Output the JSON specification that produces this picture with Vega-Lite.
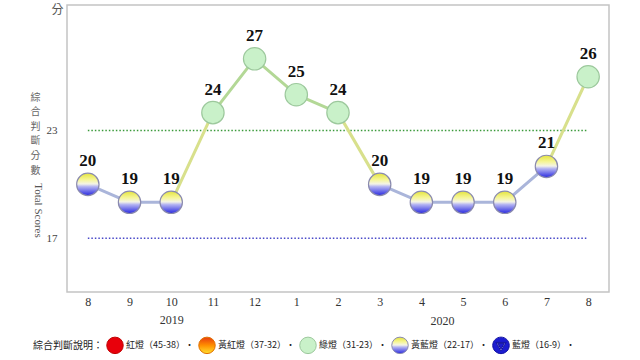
{
  "$schema": "https://vega.github.io/schema/vega-lite/v6.json",
  "autosize": "none",
  "width": 542,
  "height": 287,
  "padding": {"left": 67, "top": 5, "right": 31, "bottom": 68},
  "background": "white",
  "config": {
    "view": {"stroke": "#c4c4c4", "strokeWidth": 1.5}
  },
  "data": {
    "values": [
      {"ym": "2019-08", "score": 20, "light": "黃藍燈（22-17）"},
      {"ym": "2019-09", "score": 19, "light": "黃藍燈（22-17）"},
      {"ym": "2019-10", "score": 19, "light": "黃藍燈（22-17）"},
      {"ym": "2019-11", "score": 24, "light": "綠燈（31-23）"},
      {"ym": "2019-12", "score": 27, "light": "綠燈（31-23）"},
      {"ym": "2020-01", "score": 25, "light": "綠燈（31-23）"},
      {"ym": "2020-02", "score": 24, "light": "綠燈（31-23）"},
      {"ym": "2020-03", "score": 20, "light": "黃藍燈（22-17）"},
      {"ym": "2020-04", "score": 19, "light": "黃藍燈（22-17）"},
      {"ym": "2020-05", "score": 19, "light": "黃藍燈（22-17）"},
      {"ym": "2020-06", "score": 19, "light": "黃藍燈（22-17）"},
      {"ym": "2020-07", "score": 21, "light": "黃藍燈（22-17）"},
      {"ym": "2020-08", "score": 26, "light": "綠燈（31-23）"}
    ]
  },
  "encoding": {
    "x": {
      "field": "ym",
      "type": "ordinal",
      "scale": {"type": "point", "padding": 0.5},
      "axis": {
        "labelAngle": 0,
        "ticks": false,
        "domain": false,
        "grid": false,
        "labelPadding": 4,
        "labelFont": "Liberation Serif",
        "labelFontSize": 12,
        "labelColor": "#333333",
        "labelLineHeight": 18,
        "labelExpr": "datum.value == '2019-10' ? ['10', '2019'] : '' + toNumber(slice(datum.value, 5))",
        "title": "2020",
        "titleX": 375,
        "titleY": 28,
        "titleAlign": "center",
        "titleBaseline": "middle",
        "titleFont": "Liberation Serif",
        "titleFontSize": 12,
        "titleFontWeight": "normal",
        "titleColor": "#333333"
      }
    }
  },
  "resolve": {"scale": {"y": "independent"}},
  "layer": [
    {
      "data": {"values": [{"level": 23}, {"level": 17}]},
      "mark": {"type": "rule", "strokeWidth": 1.5, "strokeDash": [1.5, 2]},
      "encoding": {
        "x": {"datum": "2019-08"},
        "x2": {"datum": "2020-08"},
        "y": {
          "field": "level",
          "type": "quantitative",
          "scale": {"domain": [14, 30], "nice": false, "zero": false},
          "axis": {
            "orient": "left",
            "values": [17, 23],
            "ticks": false,
            "domain": false,
            "grid": false,
            "labelPadding": 10,
            "labelFont": "Liberation Serif",
            "labelFontSize": 11,
            "labelColor": "#444444",
            "title": ["綜", "合", "判", "斷", "分", "數"],
            "titleAngle": 0,
            "titleX": -32,
            "titleY": 87,
            "titleAlign": "center",
            "titleBaseline": "top",
            "titleLineHeight": 14.6,
            "titleFont": "Noto Sans CJK TC",
            "titleFontSize": 10,
            "titleFontWeight": "normal",
            "titleColor": "#666666"
          }
        },
        "stroke": {
          "condition": {"test": "datum.level == 23", "value": "#3a9a3a"},
          "value": "#4848c8"
        }
      }
    },
    {
      "transform": [
        {
          "window": [
            {"op": "lead", "field": "ym", "as": "nym"},
            {"op": "lead", "field": "score", "as": "nscore"},
            {"op": "lead", "field": "light", "as": "nlight"}
          ],
          "sort": [{"field": "ym"}]
        },
        {"filter": "datum.nym != null"},
        {"calculate": "datum.light == datum.nlight ? datum.light : '轉換'", "as": "seg"}
      ],
      "mark": {"type": "rule", "strokeWidth": 3, "strokeCap": "round"},
      "encoding": {
        "x2": {"field": "nym"},
        "y": {
          "field": "score",
          "type": "quantitative",
          "scale": {"domain": [14, 30], "nice": false, "zero": false},
          "axis": {
            "orient": "left",
            "labels": false,
            "ticks": false,
            "domain": false,
            "grid": false,
            "title": "Total Scores",
            "titleAngle": 90,
            "titleX": -30,
            "titleY": 205,
            "titleAlign": "center",
            "titleBaseline": "middle",
            "titleFont": "Liberation Serif",
            "titleFontSize": 11,
            "titleFontWeight": "normal",
            "titleColor": "#555555"
          }
        },
        "y2": {"field": "nscore"},
        "color": {
          "field": "seg",
          "type": "nominal",
          "scale": {
            "domain": ["黃藍燈（22-17）", "綠燈（31-23）", "轉換"],
            "range": ["#aab5da", "#b3d896", "#d8e08c"]
          },
          "legend": null
        }
      }
    },
    {
      "mark": {"type": "point", "filled": true, "size": 500, "strokeWidth": 1.2, "opacity": 1},
      "encoding": {
        "y": {
          "field": "score",
          "type": "quantitative",
          "scale": {"domain": [14, 30], "nice": false, "zero": false},
          "axis": {
            "orient": "left",
            "labels": false,
            "ticks": false,
            "domain": false,
            "grid": false,
            "title": "分",
            "titleAngle": 0,
            "titleX": -10,
            "titleY": 4,
            "titleAlign": "center",
            "titleBaseline": "middle",
            "titleFont": "Noto Sans CJK TC",
            "titleFontSize": 12,
            "titleFontWeight": "normal",
            "titleColor": "#555555"
          }
        },
        "fill": {
          "field": "light",
          "type": "nominal",
          "scale": {
            "domain": ["紅燈（45-38）", "黃紅燈（37-32）", "綠燈（31-23）", "黃藍燈（22-17）", "藍燈（16-9）"],
            "range": [
              "#e8000b",
              {"expr": "{gradient: 'linear', x1: 0, y1: 0, x2: 0, y2: 1, stops: [{offset: 0, color: '#e83a10'}, {offset: 0.5, color: '#ff9000'}, {offset: 1, color: '#ffe030'}]}"},
              "#c9f1c9",
              {"expr": "{gradient: 'linear', x1: 0, y1: 0, x2: 0, y2: 1, stops: [{offset: 0, color: '#e4e43c'}, {offset: 0.3, color: '#f6f69a'}, {offset: 0.48, color: '#f4f4e6'}, {offset: 0.6, color: '#b4b4f2'}, {offset: 1, color: '#2828e0'}]}"},
              "#1c1cd0"
            ]
          },
          "legend": {
            "orient": "none",
            "legendX": -34,
            "legendY": 331,
            "direction": "horizontal",
            "title": "綜合判斷說明：",
            "titleOrient": "left",
            "titleFont": "Noto Sans CJK TC",
            "titleFontSize": 10,
            "titleFontWeight": "normal",
            "titleColor": "#222222",
            "titlePadding": 3,
            "labelFont": "Noto Sans CJK TC",
            "labelFontSize": 9,
            "labelColor": "#222222",
            "labelExpr": "datum.label + '•'",
            "symbolSize": 272,
            "symbolStrokeWidth": 1,
            "columnPadding": 1,
            "labelOffset": 2
          }
        },
        "stroke": {
          "field": "light",
          "type": "nominal",
          "scale": {
            "domain": ["紅燈（45-38）", "黃紅燈（37-32）", "綠燈（31-23）", "黃藍燈（22-17）", "藍燈（16-9）"],
            "range": ["#c00000", "#e07000", "#9cc89c", "#8a8aae", "#1010a0"]
          },
          "legend": {
            "orient": "none",
            "legendX": -34,
            "legendY": 331,
            "direction": "horizontal",
            "title": "綜合判斷說明："
          }
        },
        "shape": {
          "field": "light",
          "type": "nominal",
          "scale": {
            "domain": ["紅燈（45-38）", "黃紅燈（37-32）", "綠燈（31-23）", "黃藍燈（22-17）", "藍燈（16-9）"],
            "range": ["circle", "circle", "circle", "circle", "M-1,0A1,1,0,1,1,1,0A1,1,0,1,1,-1,0ZM-0.62,-0.36L0,0.68L0.62,-0.36ZM-0.42,-0.24L0.42,-0.24L0,0.44Z"]
          },
          "legend": {
            "orient": "none",
            "legendX": -34,
            "legendY": 331,
            "direction": "horizontal",
            "title": "綜合判斷說明："
          }
        }
      }
    },
    {
      "mark": {"type": "text", "dy": -23, "baseline": "middle", "font": "Liberation Serif", "fontWeight": "bold", "fontSize": 17, "color": "#111111"},
      "encoding": {
        "y": {"field": "score", "type": "quantitative", "scale": {"domain": [14, 30], "nice": false, "zero": false}, "axis": null},
        "text": {"field": "score", "type": "quantitative"}
      }
    }
  ]
}
